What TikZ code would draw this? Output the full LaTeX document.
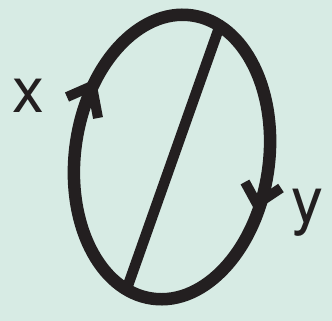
\documentclass[tikz,border=0pt]{standalone}
\usepackage{fontspec}
\setsansfont{TeX Gyre Heros}
\usetikzlibrary{positioning, calc}

\definecolor{mintbg}{RGB}{215,235,228}
\definecolor{inkblack}{RGB}{35,31,32}

\tikzset{
    loopline/.style={draw=inkblack, line width=12.5bp},
    chordline/.style={draw=inkblack, line width=10.5bp},
    ticks/.style={draw=inkblack, line width=10bp, line join=miter},
    varlabel/.style={inkblack, anchor=base, inner sep=0pt, font=\sffamily\fontsize{64}{64}\selectfont}
}

\begin{document}
\begin{tikzpicture}[x=1bp, y=-1bp]
    % background and frame
    \fill[mintbg] (0,0) rectangle (332,321);
    \useasboundingbox (0,0) rectangle (332,321);

    % the loop
    \coordinate (loopcentre) at (172,157);
    \draw[loopline, rotate around={-8:(loopcentre)}] (loopcentre) ellipse [x radius=97, y radius=143];

    % chord across the loop
    \coordinate (chordtop) at (219,28);
    \coordinate (chordbot) at (126,291);
    \draw[chordline] (chordtop) -- (chordbot);

    % direction marks
    \coordinate (leftmark) at (92,86);
    \coordinate (rightmark) at (257,204);
    \draw[ticks] (67,97) -- (leftmark) -- (98,118);
    \draw[ticks] (245,182) -- (rightmark) -- (281,188);

    % labels
    \node[varlabel] (xlab) at (28,112) {x};
    \node[varlabel] (ylab) at (307,222) {y};
\end{tikzpicture}
\end{document}
